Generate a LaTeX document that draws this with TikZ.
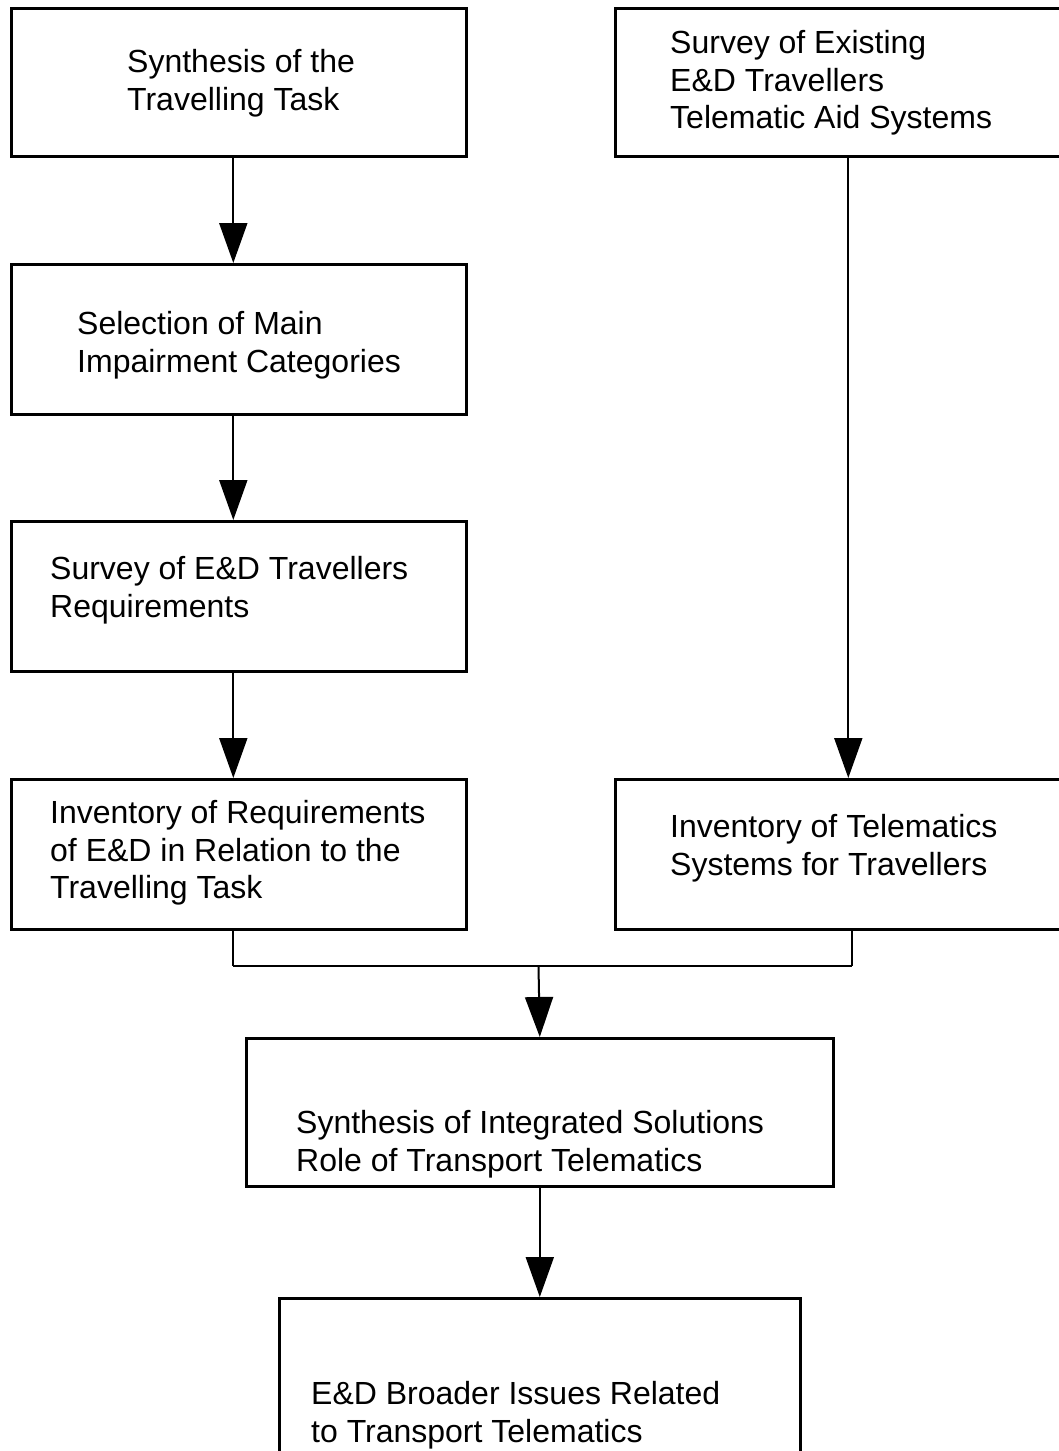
\documentclass[tikz,border=0pt]{standalone}
\usepackage{fontspec}
\setmainfont{Liberation Sans}
\usetikzlibrary{arrows.meta}
\begin{document}
\begin{tikzpicture}[x=1pt,y=-1pt,
  box/.style={draw,line width=2.6pt,rectangle,inner sep=0pt,anchor=north west},
  lbl/.style={anchor=west,align=left,font=\fontsize{32}{37.5}\selectfont,inner sep=0pt},
  conn/.style={line width=2pt},
  bar/.style={line width=2.8pt},
  arr/.style={conn,-{Triangle[width=28pt,length=40pt]}}]
\useasboundingbox (0,0) rectangle (1059,1451);
\clip (0,0) rectangle (1059,1451);
% boxes
\node[box,minimum width=455pt,minimum height=148pt] (b1) at (10,7) {};
\node[box,minimum width=450pt,minimum height=148pt] (b2) at (614,7) {};
\node[box,minimum width=455pt,minimum height=150pt] (b3) at (10,263) {};
\node[box,minimum width=455pt,minimum height=150pt] (b4) at (10,520) {};
\node[box,minimum width=455pt,minimum height=150pt] (b5) at (10,778) {};
\node[box,minimum width=450pt,minimum height=150pt] (b6) at (614,778) {};
\node[box,minimum width=587pt,minimum height=148pt] (b7) at (245,1037) {};
\node[box,minimum width=521pt,minimum height=200pt] (b8) at (278,1297) {};
% texts
\node[lbl] (t1) at (127,83) {Synthesis of the\\Travelling Task};
\node[lbl] (t2) at (670,83) {Survey of Existing\\E\&D Travellers\\Telematic Aid Systems};
\node[lbl] (t3) at (77,345) {Selection of Main\\Impairment Categories};
\node[lbl] (t4) at (50,590) {Survey of E\&D Travellers\\Requirements};
\node[lbl] (t5) at (50,853) {Inventory of Requirements\\of E\&D in Relation to the\\Travelling Task};
\node[lbl] (t6) at (670,848) {Inventory of Telematics\\Systems for Travellers};
\node[lbl] (t7) at (296,1144) {Synthesis of Integrated Solutions\\Role of Transport Telematics};
\node[lbl] (t8) at (311,1415) {E\&D Broader Issues Related\\to Transport Telematics};
% connectors
\draw[arr] ([xshift=-5.5pt]b1.south) -- ([xshift=-5.5pt]b3.north);
\draw[arr] ([xshift=-5.5pt]b3.south) -- ([xshift=-5.5pt]b4.north);
\draw[arr] ([xshift=-5.5pt]b4.south) -- ([xshift=-5.5pt]b5.north);
\draw[arr] ([xshift=8pt]b2.south) -- ([xshift=8pt]b6.north);
\coordinate (j) at (538.5,966);
\draw[conn] ([xshift=-5.5pt]b5.south) -- ([xshift=-5.5pt]b5.south |- j);
\draw[conn] ([xshift=12pt]b6.south) -- ([xshift=12pt]b6.south |- j);
\draw[bar] ([xshift=-5.5pt]b5.south |- j) -- ([xshift=12pt]b6.south |- j);
\draw[arr] (j) -- (b7.north);
\draw[arr] (b7.south) -- (b8.north);
\end{tikzpicture}
\end{document}
